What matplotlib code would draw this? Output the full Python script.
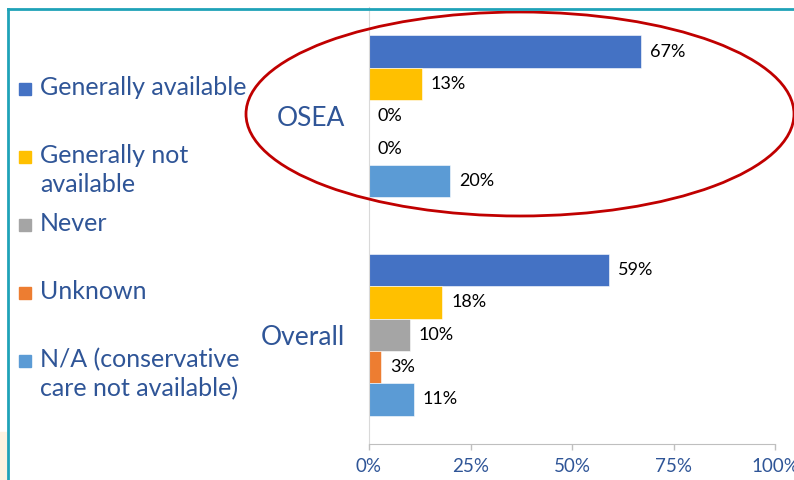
import matplotlib
matplotlib.use("Agg")
import matplotlib.pyplot as plt
from matplotlib.patches import Ellipse, Rectangle
from matplotlib.lines import Line2D

# --- DATA ---
groups = ["OSEA", "Overall"]
series = ["Generally available", "Generally not\navailable", "Never",
          "Unknown", "N/A (conservative\ncare not available)"]
osea = [67, 13, 0, 0, 20]
overall = [59, 18, 10, 3, 11]
xticks = [0, 25, 50, 75, 100]

colors = ["#4472C4", "#FFC000", "#A5A5A5", "#ED7D31", "#5B9BD5"]
TEXT_BLUE = "#2F5597"
FONT = "Lato"

W, H = 794, 480
fig = plt.figure(figsize=(W / 100, H / 100), dpi=100)
fig.patch.set_facecolor("white")

# plot area in pixels: x 369..775, y 7..444 (from top)
ax = fig.add_axes([369 / W, 1 - 444 / H, 406 / W, 437 / H])
ax.set_facecolor("none")

bar_h = 0.148
values = [osea, overall]
for g, vals in enumerate(values):
    for i, v in enumerate(vals):
        y = g + (i - 2) * bar_h
        ax.barh(y, v, height=bar_h, color=colors[i], edgecolor="white", linewidth=0.4)
        ax.annotate(f"{v}%", (v, y), xytext=(9, 0), textcoords="offset pixels",
                    ha="left", va="center", fontsize=13, family=FONT, color="black")

ax.set_xlim(0, 100)
ax.set_ylim(1.5, -0.5)
ax.set_yticks(range(len(groups)))
ax.set_yticklabels(groups, fontsize=19, family=FONT, color=TEXT_BLUE)
ax.tick_params(axis="y", length=0, pad=17)
ax.set_xticks(xticks)
ax.set_xticklabels([f"{t}%" for t in xticks], fontsize=13.5, family=FONT, color=TEXT_BLUE)
ax.tick_params(axis="x", length=4, width=1, color="#BFBFBF", pad=6)

for s in ["top", "right"]:
    ax.spines[s].set_visible(False)
ax.spines["left"].set_color("#D9D9D9")
ax.spines["bottom"].set_color("#BFBFBF")
ax.set_axisbelow(True)

# --- legend drawn by hand, on the left ---
for i, lab in enumerate(series):
    yc = 89 + i * 68
    fig.patches.append(Rectangle((19 / W, 1 - (yc + 6) / H), 12 / W, 12 / H,
                                 transform=fig.transFigure, color=colors[i]))
    fig.text(40 / W, 1 - (yc - 13) / H, lab, ha="left", va="top", fontsize=18,
             family=FONT, color=TEXT_BLUE, linespacing=1.32)

# --- slide frame and highlight ellipse ---
teal = "#1FA2B8"
fig.lines.append(Line2D([8 / W, 8 / W], [0, 1 - 9 / H], transform=fig.transFigure,
                        color=teal, lw=2))
fig.lines.append(Line2D([8 / W, 1], [1 - 9 / H, 1 - 9 / H], transform=fig.transFigure,
                        color=teal, lw=2))
fig.patches.append(Rectangle((0, 0), 6 / W, 48 / H, transform=fig.transFigure,
                             color="#FDF3E1", zorder=0))
fig.patches.append(Ellipse((520 / W, 1 - 114 / H), 548 / W, 204 / H,
                           transform=fig.transFigure, fill=False,
                           edgecolor="#C00000", lw=2))

fig.savefig("out.png", dpi=100)
